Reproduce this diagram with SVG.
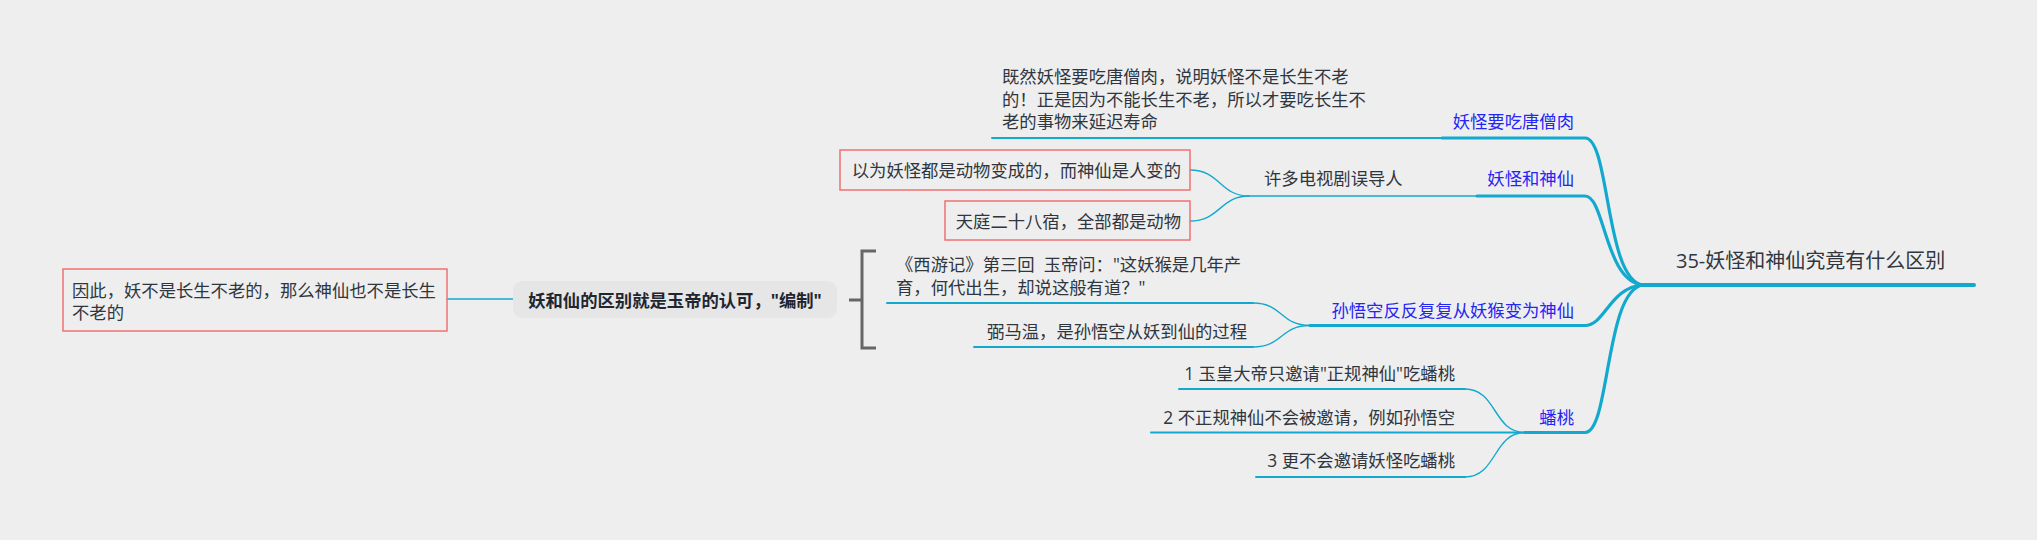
<svg xmlns="http://www.w3.org/2000/svg" width="2037" height="540" viewBox="0 0 2037 540">
<style>
.t{font-family:"Open Sans","Noto Sans CJK SC",sans-serif;font-size:17.33px;fill:#2f3640}
.b{fill:#2525f5}
.bold{font-weight:bold;fill:#1f2630}
.main{font-size:20px}
.box{fill:none;stroke:#f07272;stroke-width:1.5}
.c{fill:none;stroke:#13a9cf;stroke-linecap:round}
.thin{stroke-width:1.4}
.leaf{stroke-width:2}
.thick{stroke-width:3.2}
.brk{fill:none;stroke:#666;stroke-width:3}
</style>
<rect width="2037" height="540" fill="#eeeeee"/>
<g id="connectors">
<path class="c thick" d="M1641 285 L1974 285" style="stroke-width:4"/>
<path class="c thick" d="M1442 138 L1585 138 C1610 138 1605 280 1643 285"/>
<path class="c thick" d="M1477 196 L1585 196 C1605 196 1605 282 1643 285"/>
<path class="c thick" d="M1310 325.5 L1585 325.5 C1605 325.5 1610 287 1643 285"/>
<path class="c thick" d="M1525 432.5 L1585 432.5 C1610 432.5 1605 290 1643 285"/>
<path class="c leaf" d="M992 138 L1442 138"/>
<path class="c thin" d="M1249 196 L1477 196"/>
<path class="c thin" d="M1190 170 C1220 170 1220 196 1249 196"/>
<path class="c thin" d="M1190 221 C1220 221 1220 196 1249 196"/>
<path class="c leaf" d="M887 303 L1253 303"/>
<path class="c leaf" d="M974 347 L1253 347"/>
<path class="c thin" d="M1253 303 C1283 303 1280 325.5 1310 325.5"/>
<path class="c thin" d="M1253 347 C1283 347 1280 325.5 1310 325.5"/>
<path class="c leaf" d="M1179 389 L1465 389"/>
<path class="c leaf" d="M1151 432.5 L1525 432.5"/>
<path class="c leaf" d="M1256 477 L1465 477"/>
<path class="c thin" d="M1465 389 C1497 389 1493 432.5 1525 432.5"/>
<path class="c thin" d="M1465 477 C1497 477 1493 432.5 1525 432.5"/>
<path class="c thin" d="M447 299 L513 299"/>
<path class="brk" d="M876 251 L862 251 L862 348 L876 348 M849 300 L862 300"/>
</g>
<g id="main"><text class="t main" x="1676" y="267.6">35-妖怪和神仙究竟有什么区别</text></g>
<g id="topic1"><text class="t b" x="1574" y="127.6" text-anchor="end">妖怪要吃唐僧肉</text></g>
<g id="topic1-note"><text class="t" x="1002" y="83.3">既然妖怪要吃唐僧肉，说明妖怪不是长生不老</text><text class="t" x="1002" y="105.8">的！正是因为不能长生不老，所以才要吃长生不</text><text class="t" x="1002" y="128.3">老的事物来延迟寿命</text></g>
<g id="topic2"><text class="t b" x="1574" y="184.6" text-anchor="end">妖怪和神仙</text></g>
<g id="misleading"><text class="t" x="1264" y="184.6">许多电视剧误导人</text></g>
<g id="box1"><rect class="box" x="840" y="150" width="350" height="40"/><text class="t" x="1181" y="176.6" text-anchor="end">以为妖怪都是动物变成的，而神仙是人变的</text></g>
<g id="box2"><rect class="box" x="945" y="201" width="245" height="39"/><text class="t" x="1181" y="227.6" text-anchor="end">天庭二十八宿，全部都是动物</text></g>
<g id="topic3"><text class="t b" x="1574" y="316.6" text-anchor="end">孙悟空反反复复从妖猴变为神仙</text></g>
<g id="xiyouji"><text class="t" x="896" y="271">《西游记》第三回&#160;&#160;玉帝问："这妖猴是几年产</text><text class="t" x="896" y="294">育，何代出生，却说这般有道？"</text></g>
<g id="bimawen"><text class="t" x="1247" y="337.6" text-anchor="end">弼马温，是孙悟空从妖到仙的过程</text></g>
<g id="summary"><rect x="513" y="281" width="324" height="37" rx="9" fill="#e6e6e6"/><text class="t bold" x="675" y="306.6" text-anchor="middle">妖和仙的区别就是玉帝的认可，"编制"</text></g>
<g id="conclusion"><rect class="box" x="63" y="269" width="384" height="62"/><text class="t" x="72" y="296.5">因此，妖不是长生不老的，那么神仙也不是长生</text><text class="t" x="72" y="318.8">不老的</text></g>
<g id="topic4"><text class="t b" x="1574" y="423.6" text-anchor="end">蟠桃</text></g>
<g id="peach1"><text class="t" x="1455" y="379.6" text-anchor="end">1 玉皇大帝只邀请"正规神仙"吃蟠桃</text></g>
<g id="peach2"><text class="t" x="1455" y="423.6" text-anchor="end">2 不正规神仙不会被邀请，例如孙悟空</text></g>
<g id="peach3"><text class="t" x="1455" y="466.6" text-anchor="end">3 更不会邀请妖怪吃蟠桃</text></g>
</svg>
